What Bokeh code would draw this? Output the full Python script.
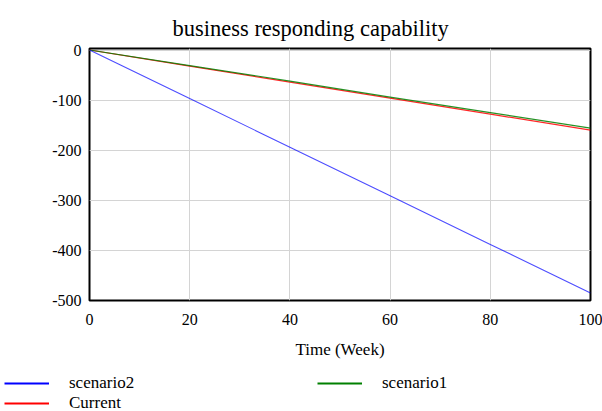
from bokeh.plotting import figure
from bokeh.models import Legend, LegendItem, Range1d, FixedTicker, PrintfTickFormatter
from bokeh.embed import file_html
from bokeh.resources import INLINE

weeks = [0, 20, 40, 60, 80, 100]
scenario2 = [0, -97, -194, -291, -388, -485]
scenario1 = [0, -31, -62, -94, -125, -156]
current = [0, -32, -64, -96, -128, -160]
x_ticks = [0, 20, 40, 60, 80, 100]
y_ticks = [0, -100, -200, -300, -400, -500]

FONT = "Liberation Serif"
C_S2 = "#0000ff"
C_S1 = "#008000"
C_CUR = "#ff0000"

p = figure(width=602, height=365, output_backend="svg", toolbar_location=None,
           x_range=Range1d(0, 100), y_range=Range1d(-500, 3),
           min_border_left=89, min_border_right=12, min_border_top=48, min_border_bottom=65,
           title="business responding capability")

p.background_fill_color = "white"
p.border_fill_color = "white"
p.outline_line_color = "black"
p.outline_line_width = 2

p.title.text_font = FONT
p.title.text_font_style = "normal"
p.title.text_font_size = "22.5px"
p.title.align = "left"
p.title.offset = 80
p.title.padding = 3
p.title.text_color = "black"

p.line(weeks, current, line_color=C_CUR, line_width=1.2, line_alpha=0.85)
p.line(weeks, scenario1, line_color=C_S1, line_width=1.2, line_alpha=0.85)
p.line(weeks, scenario2, line_color=C_S2, line_width=1.1, line_alpha=0.7)

for ax in (p.xaxis[0], p.yaxis[0]):
    ax.axis_line_color = None
    ax.major_tick_line_color = None
    ax.minor_tick_line_color = None
    ax.major_label_text_font = FONT
    ax.major_label_text_font_size = "16px"
    ax.major_label_text_color = "black"
    ax.formatter = PrintfTickFormatter(format="%d")

p.xaxis[0].ticker = FixedTicker(ticks=x_ticks)
p.yaxis[0].ticker = FixedTicker(ticks=y_ticks)
p.xaxis[0].major_label_standoff = 7
p.yaxis[0].major_label_standoff = 2
p.xaxis[0].axis_label = "Time (Week)"
p.xaxis[0].axis_label_text_font = FONT
p.xaxis[0].axis_label_text_font_style = "normal"
p.xaxis[0].axis_label_text_font_size = "17px"
p.xaxis[0].axis_label_text_color = "black"
p.xaxis[0].axis_label_standoff = 12

p.xgrid.grid_line_color = "#d4d4d4"
p.ygrid.grid_line_color = "#d4d4d4"
p.xgrid.ticker = FixedTicker(ticks=x_ticks)
p.ygrid.ticker = FixedTicker(ticks=y_ticks)

# legend strip below the chart (separate root, so its frame is the full strip)
p2 = figure(width=602, height=46, output_backend="svg", toolbar_location=None,
            x_axis_type=None, y_axis_type=None, min_border=0,
            x_range=Range1d(0, 1), y_range=Range1d(0, 1))
p2.outline_line_color = None
p2.grid.visible = False
p2.background_fill_color = "white"
p2.border_fill_color = "white"

nan = float("nan")
l_s2 = p2.line([nan], [nan], line_color=C_S2, line_width=2)
l_s1 = p2.line([nan], [nan], line_color=C_S1, line_width=2)
l_cur = p2.line([nan], [nan], line_color=C_CUR, line_width=2)

def mk_legend(items, loc):
    return Legend(items=items, location=loc, padding=0, margin=0, spacing=0,
                  glyph_width=45, glyph_height=18, label_height=18, label_standoff=20,
                  label_text_font=FONT, label_text_font_size="17px",
                  label_text_color="black",
                  background_fill_alpha=0, border_line_color=None)

p2.add_layout(mk_legend([LegendItem(label="scenario2", renderers=[l_s2]),
                         LegendItem(label="Current", renderers=[l_cur])], (4, -2)), "center")
p2.add_layout(mk_legend([LegendItem(label="scenario1", renderers=[l_s1])], (317, 18)), "center")

open("out.html", "w").write(file_html([p, p2], INLINE))
